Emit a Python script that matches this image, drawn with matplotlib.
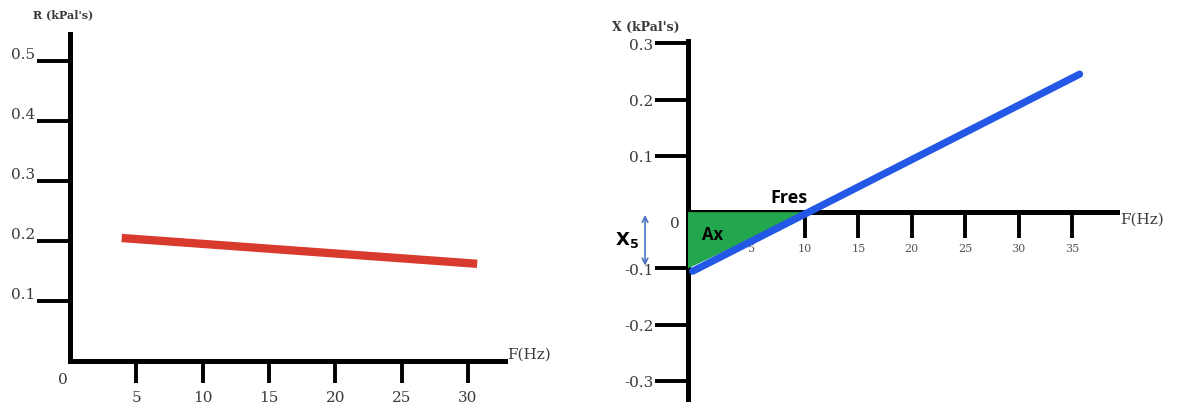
import numpy as np
import matplotlib
matplotlib.use('Agg')
import matplotlib.pyplot as plt

# left panel: resistance R vs frequency
r_freq = [3.9, 30.7]
r_vals = [0.205, 0.162]
r_yticks = [0.1, 0.2, 0.3, 0.4, 0.5]
r_xticks = [5, 10, 15, 20, 25, 30]

# right panel: reactance X vs frequency
x_freq = [-0.5, 35.7]
x_vals = [-0.105, 0.245]
x_yticks = [-0.3, -0.2, -0.1, 0.1, 0.2, 0.3]
x_xticks = [5, 10, 15, 20, 25, 30, 35]
fres = 10.3
xs = -0.1

W, H = 1178, 410
fig = plt.figure(figsize=(W/100, H/100), dpi=100)
serif = 'DejaVu Serif'
sans = 'Open Sans'
tc = '#3a3a3a'

def box(x0, y0, x1, y1):
    # pixel box -> figure fraction
    return [x0/W, 1 - y1/H, (x1-x0)/W, (y1-y0)/H]

# ---- left ----
ax1 = fig.add_axes(box(70, 35, 505, 362))
ax1.plot(r_freq, r_vals, color='#d93a2e', lw=6, solid_capstyle='butt')
ax1.set_xlim(0, 32.8)
ax1.set_ylim(0, 0.545)
for s in ['top', 'right']:
    ax1.spines[s].set_visible(False)
for s in ['left', 'bottom']:
    ax1.spines[s].set_linewidth(3.6)
ax1.set_yticks(r_yticks)
ax1.set_yticklabels([str(v) for v in r_yticks], family=serif, fontsize=11, color=tc)
ax1.set_xticks(r_xticks)
ax1.set_xticklabels([str(v) for v in r_xticks], family=serif, fontsize=11, color=tc)
ax1.tick_params(axis='y', direction='out', length=24, width=2.8, pad=1)
ax1.tick_params(axis='x', direction='out', length=16, width=2.8, pad=5)
for lab in ax1.get_yticklabels():
    lab.set_verticalalignment('bottom')
ax1.text(-0.5, -0.03, '0', family=serif, fontsize=11, color=tc, ha='center', va='center', clip_on=False)
fig.text(507/W, 1 - 355/H, 'F(Hz)', family=serif, fontsize=11, color=tc, va='center')
fig.text(33/W, 1 - 15/H, "R (kPal's)", family=serif, fontsize=8, color=tc, weight='bold', va='center')

# ---- right ----
ax2 = fig.add_axes(box(688, 42, 1117, 400))
ax2.plot(x_freq, x_vals, color='#2358e6', lw=5.2, solid_capstyle='round', zorder=4)
ax2.fill([-0.93, -0.93, fres], [0, xs, 0], color='#22a64e', zorder=2.6, lw=0)
ax2.set_xlim(-0.93, 39.2)
ax2.set_ylim(-0.332, 0.304)
for s in ['top', 'right']:
    ax2.spines[s].set_visible(False)
ax2.spines['bottom'].set_position(('data', 0))
for s in ['left', 'bottom']:
    ax2.spines[s].set_linewidth(3.6)
ax2.set_yticks(x_yticks)
ax2.set_yticklabels([str(v) for v in x_yticks], family=serif, fontsize=11, color=tc)
ax2.set_xticks(x_xticks)
ax2.set_xticklabels([str(v) for v in x_xticks], family=serif, fontsize=8, color='#555555')
ax2.tick_params(axis='y', direction='out', length=24, width=2.8, pad=1)
ax2.tick_params(axis='x', direction='out', length=19, width=2.8, pad=3)
ax2.text(-2.2, -0.02, '0', family=serif, fontsize=11, color=tc, ha='center', va='center', clip_on=False)
ax2.text(0.4, -0.038, 'Ax', family=sans, fontsize=12, weight='bold', ha='left', va='center', zorder=5)
ax2.text(8.5, 0.027, 'Fres', family=sans, fontsize=13, weight='bold', ha='center', va='center')
ax2.annotate('', xy=(-4.95, 0.0), xytext=(-4.95, -0.1),
             arrowprops=dict(arrowstyle='<->', color='#4a74c0', lw=1.2), annotation_clip=False)
ax2.text(-6.6, -0.048, r'$\mathbf{X}_\mathbf{5}$', fontsize=13, ha='center', va='center', clip_on=False)
fig.text(1120/W, 1 - 220/H, 'F(Hz)', family=serif, fontsize=11, color=tc, va='center')
fig.text(612/W, 1 - 27/H, "X (kPal's)", family=serif, fontsize=9, color=tc, weight='bold', va='center')

fig.savefig('out.png', dpi=100)
